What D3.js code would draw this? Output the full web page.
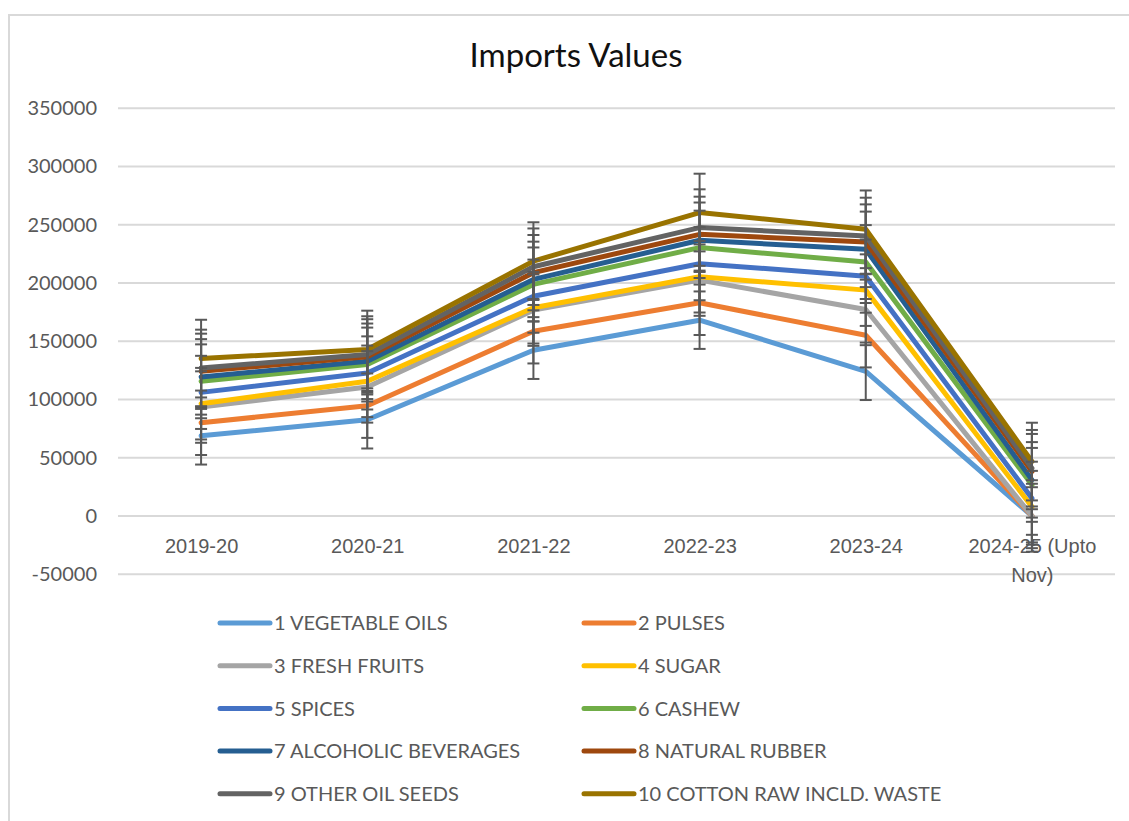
<!DOCTYPE html>
<html>
<head>
<meta charset="utf-8">
<script src="https://cdn.jsdelivr.net/npm/d3@7"></script>
<style>
  body { margin: 0; background: #fff; }
  svg { display: block; font-family: Lato, "Open Sans", sans-serif; }
</style>
</head>
<body>
<div class="canvas"></div>
<script>
// data (stacked line chart, individual values per series)
const years = ['2019-20', '2020-21', '2021-22', '2022-23', '2023-24', '2024-25 (Upto Nov)']
const seriesNames = ['1 VEGETABLE OILS', '2 PULSES', '3 FRESH FRUITS', '4 SUGAR', '5 SPICES',
  '6 CASHEW', '7 ALCOHOLIC BEVERAGES', '8 NATURAL RUBBER', '9 OTHER OIL SEEDS', '10 COTTON RAW INCLD. WASTE']
const vegetableOils = [68800, 82600, 142300, 168100, 124200, 0]
const pulses = [11200, 12100, 16300, 14900, 31000, 0]
const freshFruits = [13500, 16100, 18100, 19500, 22100, 0]
const sugar = [2900, 4800, 2100, 2900, 16600, 8000]
const spices = [9700, 7200, 9900, 11200, 12000, 7200]
const cashew = [9500, 7200, 10100, 13800, 12100, 11500]
const alcoholicBeverages = [3800, 2800, 4300, 6300, 10900, 4300]
const naturalRubber = [4800, 3800, 5800, 5100, 6300, 7100]
const otherOilSeeds = [2900, 2000, 5100, 5800, 5200, 2900]
const cottonRaw = [8000, 4300, 4800, 12900, 5700, 5700]
const yTicks = [-50000, 0, 50000, 100000, 150000, 200000, 250000, 300000, 350000]

const colors = ['#5B9BD5', '#ED7D31', '#A5A5A5', '#FFC000', '#4472C4',
  '#70AD47', '#255E91', '#9E480E', '#636363', '#997300']

const allValues = [vegetableOils, pulses, freshFruits, sugar, spices, cashew,
  alcoholicBeverages, naturalRubber, otherOilSeeds, cottonRaw]

const _load = () => {
    const width = 1129
    const height = 821
    const plot = { left: 118, right: 1115 }

    const svg = d3.select('.canvas')
        .append('svg')
        .attr('width', width)
        .attr('height', height)

    svg.append('rect')
        .attr('x', 9).attr('y', 15)
        .attr('width', 1140).attr('height', 830)
        .attr('fill', '#fff')
        .attr('stroke', '#d9d9d9')
        .attr('stroke-width', 2)

    const xScale = d3.scalePoint().domain(years).range([plot.left, plot.right]).padding(0.5)
    const yScale = d3.scaleLinear().domain([-50000, 350000]).range([574.2, 108.3])

    // stacked like Excel's "stacked line"
    const table = years.map((y, i) => {
        const row = { year: y }
        seriesNames.forEach((s, j) => row[s] = allValues[j][i])
        return row
    })
    const stacked = d3.stack().keys(seriesNames)(table)

    // title
    svg.append('text')
        .attr('x', 576).attr('y', 67)
        .attr('text-anchor', 'middle')
        .attr('font-size', 33)
        .attr('fill', '#111')
        .text('Imports Values')

    // gridlines
    svg.append('g')
        .selectAll('line')
        .data(yTicks)
        .enter()
        .append('line')
            .attr('x1', plot.left).attr('x2', plot.right)
            .attr('y1', d => yScale(d)).attr('y2', d => yScale(d))
            .attr('stroke', '#d9d9d9')
            .attr('stroke-width', 2)

    // y axis
    const yAxis = d3.axisLeft(yScale).tickValues(yTicks).tickFormat(d => String(d)).tickSize(0).tickPadding(0)
    const yAxisGroup = svg.append('g')
        .attr('transform', `translate(97, 0)`)
        .call(yAxis)
    yAxisGroup.select('.domain').remove()
    yAxisGroup.selectAll('text')
        .attr('font-size', 20)
        .attr('font-family', 'Lato, sans-serif')
        .attr('fill', '#595959')

    // x labels (sit below the zero line)
    const xAxis = d3.axisBottom(xScale).tickSize(0).tickPadding(0).tickFormat('')
    const xAxisGroup = svg.append('g')
        .attr('transform', `translate(0, ${yScale(0)})`)
        .call(xAxis)
    xAxisGroup.select('.domain').remove()
    xAxisGroup.selectAll('.tick').each(function(d) {
        const t = d3.select(this).append('text')
            .attr('text-anchor', 'middle')
            .attr('font-size', 20)
            .attr('fill', '#595959')
        const parts = d === '2024-25 (Upto Nov)' ? ['2024-25 (Upto', 'Nov)'] : [d]
        parts.forEach((p, k) => {
            t.append('tspan').attr('x', 0).attr('y', 37 + k * 29).text(p)
        })
    })

    // lines
    const lineGenerator = d3.line()
        .x(d => xScale(d.data.year))
        .y(d => yScale(d[1]))

    svg.append('g')
        .selectAll('path')
        .data(stacked)
        .enter()
        .append('path')
            .attr('fill', 'none')
            .attr('stroke', (d, i) => colors[i])
            .attr('stroke-width', 5)
            .attr('stroke-linejoin', 'round')
            .attr('stroke-linecap', 'round')
            .attr('d', lineGenerator)

    // standard error bars (Excel computes them from the plotted, stacked values)
    const errGroup = svg.append('g')
    stacked.forEach(layer => {
        const tops = layer.map(d => d[1])
        const se = d3.deviation(tops) / Math.sqrt(tops.length)
        layer.forEach(d => {
            const cx = xScale(d.data.year)
            const y1 = yScale(d[1] + se)
            const y2 = yScale(d[1] - se)
            errGroup.append('line')
                .attr('x1', cx).attr('x2', cx).attr('y1', y1).attr('y2', y2)
                .attr('stroke', '#595959').attr('stroke-width', 2)
            ;[y1, y2].forEach(yy => {
                errGroup.append('line')
                    .attr('x1', cx - 6).attr('x2', cx + 6).attr('y1', yy).attr('y2', yy)
                    .attr('stroke', '#595959').attr('stroke-width', 2)
            })
        })
    })

    // legend
    const legend = svg.append('g')
    seriesNames.forEach((name, i) => {
        const col = i % 2
        const row = Math.floor(i / 2)
        const lx = col === 0 ? 218 : 582
        const ly = 623 + row * 42.7
        legend.append('line')
            .attr('x1', lx + 2).attr('x2', lx + 52)
            .attr('y1', ly).attr('y2', ly)
            .attr('stroke', colors[i])
            .attr('stroke-width', 5)
            .attr('stroke-linecap', 'round')
        legend.append('text')
            .attr('x', lx + 56).attr('y', ly)
            .attr('dy', '0.36em')
            .attr('font-size', 20)
            .attr('fill', '#595959')
            .text(name)
    })
}

window.addEventListener('load', _load)
</script>
</body>
</html>
